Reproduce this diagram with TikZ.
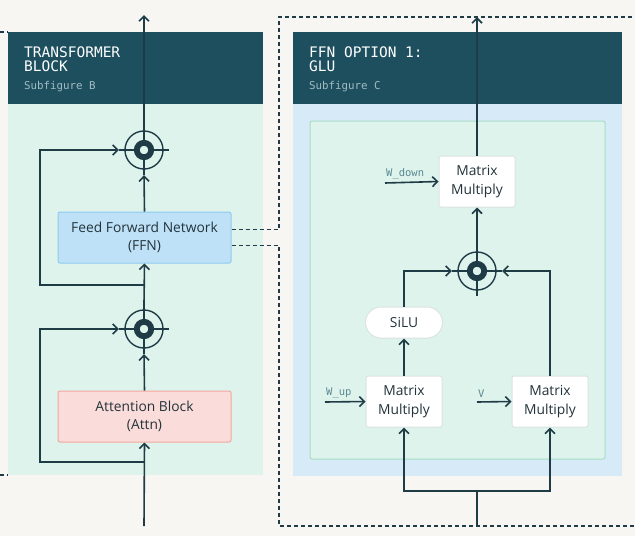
\documentclass[tikz,border=0pt]{standalone}
\usepackage{fontspec}
\setmainfont{Open Sans}
\setmonofont{DejaVu Sans Mono}
\usepackage{tikz}
\usetikzlibrary{arrows.meta,positioning}

\definecolor{paper}{HTML}{F7F6F3}
\definecolor{head}{HTML}{1D4F5F}
\definecolor{headsub}{HTML}{A3BCC4}
\definecolor{mint}{HTML}{DDF3EC}
\definecolor{mintline}{HTML}{A9DCC7}
\definecolor{sky}{HTML}{D6EAF8}
\definecolor{ink}{HTML}{1F3C46}
\definecolor{ffnfill}{HTML}{BEE1F8}
\definecolor{ffnline}{HTML}{8ECBF0}
\definecolor{attfill}{HTML}{FADCDA}
\definecolor{attline}{HTML}{F4A79E}
\definecolor{mmline}{HTML}{DCE3E3}
\definecolor{wlabel}{HTML}{5B8890}
\definecolor{boxtext}{HTML}{23333A}

\begin{document}
\begin{tikzpicture}[x=1pt, y=-1pt, >={Straight Barb[length=5pt,width=10pt]}]
			\tikzstyle{Title}	= [anchor=base west, inner sep=0pt, align=left, text=white, font=\ttfamily\fontsize{14.5}{14}\selectfont]
			\tikzstyle{Sub}		= [anchor=base west, inner sep=0pt, text=headsub, font=\ttfamily\fontsize{10.8}{12}\selectfont]
			\tikzstyle{Box}		= [rectangle, rounded corners=2pt, line width=1pt, align=center, text=boxtext, font=\fontsize{13.8}{18.5}\selectfont]
			\tikzstyle{FFN}		= [Box, fill=ffnfill, draw=ffnline, minimum width=173pt, minimum height=51pt]
			\tikzstyle{ATT}		= [Box, fill=attfill, draw=attline, minimum width=173pt, minimum height=51pt]
			\tikzstyle{MM}		= [Box, fill=white, draw=mmline, minimum width=76pt, minimum height=51pt]
			\tikzstyle{Act}		= [Box, fill=white, draw=mmline, rounded corners=15.5pt, minimum width=77pt, minimum height=31pt]
			\tikzstyle{Combine}	= [circle, minimum size=50pt, inner sep=0pt]
			\tikzstyle{Flow}	= [ink, line width=1.6pt]
			\tikzstyle{Skip}	= [Flow, rounded corners=3pt]
			\tikzstyle{Thin}	= [ink, line width=1.4pt]
			\tikzstyle{Ring}	= [ink, line width=5.8pt]
			\tikzstyle{Link}	= [ink, line width=1.4pt, dash pattern=on 4pt off 3pt]
			\tikzstyle{WLab}	= [anchor=south west, inner sep=1pt, text=wlabel, font=\ttfamily\fontsize{10.5}{12}\selectfont]
			
			\useasboundingbox [fill=paper] (0,0) rectangle (635,536);
			
			% left panel: transformer block
			\fill [mint] (8,32) rectangle (263,475);
			\fill [head] (8,32) rectangle (263,104);
			\node (tL) at (24,71) [Title] {TRANSFORMER\\BLOCK};
			\node (sL) at (24,89) [Sub] {Subfigure B};
			
			% right panel: GLU
			\fill [sky] (293,32) rectangle (622,476);
			\fill [head] (293,32) rectangle (622,104);
			\draw [mintline, fill=mint, line width=1pt, rounded corners=2pt] (310,121) rectangle (605,459);
			\node (tR) at (309,71) [Title] {FFN OPTION 1:\\GLU};
			\node (sR) at (309,89) [Sub] {Subfigure C};
			
			\node (ffn)  at (144.5,237.5) [FFN] {Feed Forward Network\\(FFN)};
			\node (attn) at (144.5,416.5) [ATT] {Attention Block\\(Attn)};
			\node (c1) at (144,150) [Combine] {};
			\node (c2) at (144,329) [Combine] {};
			
			\node (mm3)  at (477,181.5) [MM] {Matrix\\Multiply};
			\node (c3)   at (477,271) [Combine] {};
			\node (silu) at (404,322.5) [Act] {SiLU};
			\node (mm1)  at (404,401.5) [MM] {Matrix\\Multiply};
			\node (mm2)  at (550,401.5) [MM] {Matrix\\Multiply};
			
			\foreach \c in {c1,c2,c3} {
				\draw [Thin] (\c) circle (19pt);
				\draw [Ring] (\c) circle (7.2pt);
				\foreach \a in {0,90,180,270}
					\draw [Thin] (\c) ++(\a:10pt) -- ++(\a:15pt);
			}
			
			\coordinate (inL)  at (144,526);
			\coordinate (outL) at (144,15);
			\coordinate (s1)   at (144,462);
			\coordinate (s2)   at (144,285);
			
			\draw [->] (inL) to (attn.south) [Flow];
			\draw [->] (attn.north) to (c2.south) [Flow];
			\draw [->] (c2.north) to (ffn.south) [Flow];
			\draw [->] (ffn.north) to (c1.south) [Flow];
			\draw [->] (c1.north) to (outL) [Flow];
			\draw [->] (s1) -- ++(-104,0) |- (c2.west) [Skip];
			\draw [->] (s2) -- ++(-104,0) |- (c1.west) [Skip];
			
			% dashed links to the FFN options
			\draw [Link] ([yshift=8pt]ffn.east) -| (279,17) -- (635,17);
			\draw [Link] ([yshift=-8pt]ffn.east) -| (279,526) -- (635,526);
			\draw [Link] (0,32) -- (8,32);
			\draw [Link] (0,475) -- (8,475);
			
			\coordinate (inR)  at (477,526);
			\coordinate (outR) at (477,17);
			\coordinate (sp)   at (477,491);
			\coordinate (wd)   at (385,183);
			\coordinate (wu)   at (325,402);
			\coordinate (vv)   at (477,402);
			
			\draw [->] (mm3.north) to (outR) [Flow];
			\draw [->] (c3.north) to (mm3.south) [Flow];
			\draw [->] (silu.north) |- (c3.west) [Skip];
			\draw [->] (mm2.north) |- (c3.east) [Skip];
			\draw [->] (mm1.north) to (silu.south) [Flow];
			\draw [-] (inR) to (sp) [Flow];
			\draw [->] (sp) -| (mm1.south) [Skip];
			\draw [->] (sp) -| (mm2.south) [Skip];
			
			\draw [->] (wd) to (mm3.west) [Flow];
			\draw [->] (wu) to (mm1.west) [Flow];
			\draw [->] (vv) to (mm2.west) [Flow];
			\node (lwd) at ([yshift=3pt]wd) [WLab] {W\_down};
			\node (lwu) at ([yshift=3pt]wu) [WLab] {W\_up};
			\node (lvv) at ([yshift=3pt]vv) [WLab] {V};
			
		\end{tikzpicture}
\end{document}
